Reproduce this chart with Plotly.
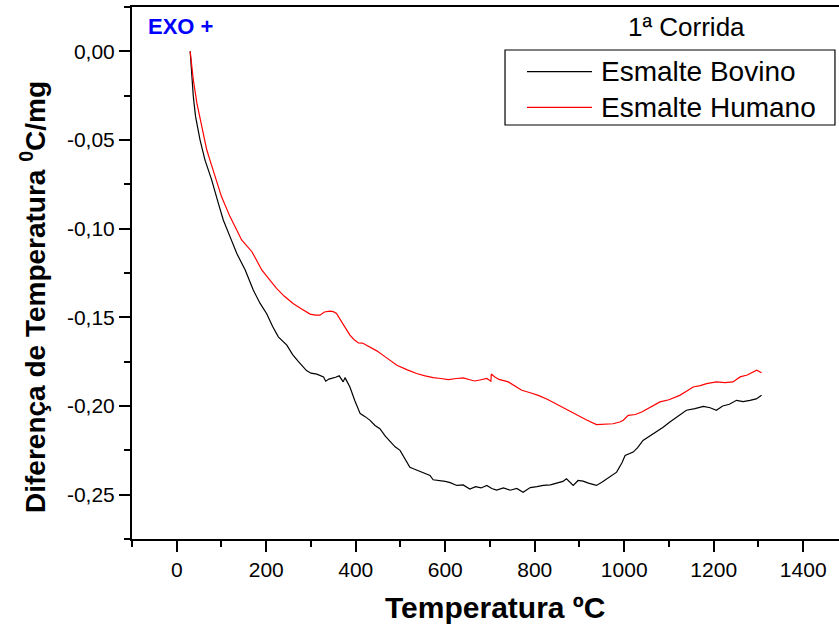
import plotly.graph_objects as go

# Esmalte Bovino (black)
bov_x = [30, 33, 37, 42, 52, 63, 78, 93, 104, 119, 134, 153, 171, 186, 201, 214, 227, 246, 259, 272, 290, 300,
         313, 328, 333, 340, 346, 355, 363, 368, 372, 376, 380, 387, 398, 410, 421, 432, 443, 454, 466, 477,
         488, 499, 508, 517, 521, 529, 543, 558, 566, 573, 588, 600, 611, 626, 640, 655, 668, 680, 693, 704,
         715, 730, 745, 760, 774, 790, 805, 819, 835, 850, 863, 871, 886, 897, 908, 920, 938, 950, 961, 972,
         983, 995, 1002, 1020, 1030, 1042, 1057, 1072, 1087, 1102, 1120, 1139, 1158, 1177, 1192, 1206, 1220,
         1235, 1251, 1266, 1281, 1295, 1307]
bov_y = [0.0, -0.0122, -0.0254, -0.0367, -0.0499, -0.0612, -0.0725, -0.0857, -0.0951, -0.1045, -0.1139,
         -0.1233, -0.1346, -0.142,
         -0.148, -0.155, -0.161, -0.1657, -0.171, -0.175, -0.180, -0.1815, -0.182, -0.1836, -0.186, -0.1848,
         -0.1845, -0.1838, -0.183, -0.185, -0.1864, -0.184, -0.186, -0.1893, -0.197, -0.2043, -0.206, -0.2081,
         -0.211, -0.2128, -0.217, -0.2203, -0.223, -0.225, -0.229, -0.2335, -0.2345, -0.2354, -0.2368, -0.2382,
         -0.2392, -0.2416, -0.242, -0.2425, -0.2432, -0.2448, -0.2445, -0.2468, -0.2455, -0.2462, -0.2448,
         -0.2465, -0.2474, -0.2462, -0.2475, -0.2465, -0.2486, -0.246, -0.2455, -0.2448, -0.2445, -0.2432,
         -0.2425, -0.241, -0.2448, -0.242, -0.2424, -0.2435, -0.2448, -0.243, -0.241, -0.2395, -0.2373,
         -0.232, -0.2279, -0.226, -0.2235, -0.2194, -0.217, -0.2147, -0.212, -0.209, -0.206, -0.2024, -0.2015,
         -0.2002, -0.201, -0.2024, -0.200, -0.199, -0.1968, -0.1975, -0.1968, -0.196, -0.194]

# Esmalte Humano (red)
hum_x = [30, 37, 45, 56, 67, 74, 86, 100, 119, 145, 168, 190, 205, 223, 240, 260, 280,
         298, 310, 320, 330, 342, 350, 357, 372, 387, 396, 406, 415, 424, 435, 447, 470, 492, 514, 536, 555,
         573, 590, 607, 625, 640, 655, 666, 680, 693, 702, 703, 710, 720, 741, 755, 771, 790, 808, 828, 849,
         870, 894, 915, 938, 955, 975, 990, 998, 1009, 1025, 1039, 1060, 1080, 1100, 1124, 1140, 1154, 1170,
         1184, 1206, 1225, 1243, 1259, 1275, 1290, 1296, 1307]
hum_y = [0.0, -0.016, -0.0292, -0.0424, -0.0555, -0.0612, -0.0706, -0.0819, -0.0932, -0.1064, -0.113,
         -0.1233, -0.128, -0.1337, -0.138, -0.1422, -0.1455, -0.1482, -0.1488, -0.1488,
         -0.147, -0.1465, -0.1468, -0.1478, -0.154, -0.160, -0.1625, -0.1644, -0.1645, -0.1657, -0.1675,
         -0.1689, -0.173, -0.177, -0.1795, -0.1817, -0.183, -0.184, -0.1845, -0.1851, -0.1845, -0.1842,
         -0.1852, -0.1859, -0.1852, -0.1845, -0.186, -0.182, -0.1835, -0.185, -0.1864, -0.1885, -0.1911,
         -0.1925, -0.194, -0.1962, -0.199, -0.202, -0.2053, -0.2078, -0.2105, -0.2102, -0.210, -0.209,
         -0.208, -0.2053, -0.2048, -0.2034, -0.2005, -0.1977, -0.1965, -0.194, -0.1915, -0.1893, -0.1885,
         -0.1874, -0.1864, -0.1868, -0.1864, -0.1836, -0.1825, -0.1805, -0.1798, -0.1813]

y_tick_vals = [0.0, -0.05, -0.10, -0.15, -0.20, -0.25]
y_tick_text = ["0,00", "-0,05", "-0,10", "-0,15", "-0,20", "-0,25"]

series_names = ["Esmalte Bovino", "Esmalte Humano"]
series_colors = ["black", "red"]

FONT = "Liberation Sans, Arial, sans-serif"

fig = go.Figure()
fig.add_trace(go.Scatter(x=bov_x, y=bov_y, mode="lines", name=series_names[0],
                         line=dict(color=series_colors[0], width=1.2)))
fig.add_trace(go.Scatter(x=hum_x, y=hum_y, mode="lines", name=series_names[1],
                         line=dict(color=series_colors[1], width=1.2)))

axis_common = dict(showgrid=False, zeroline=False, showline=True, linecolor="black", linewidth=2,
                   ticks="outside", ticklen=11, tickwidth=2, tickcolor="black",
                   tickfont=dict(family=FONT, size=21, color="black"))

fig.update_xaxes(range=[-100, 1480], dtick=200, tick0=0, mirror=True,
                 minor=dict(dtick=100, tick0=0, ticks="outside", ticklen=6, tickwidth=2, tickcolor="black"),
                 **axis_common)
fig.update_yaxes(range=[-0.275, 0.025], tickvals=y_tick_vals, ticktext=y_tick_text, mirror=False,
                 minor=dict(dtick=0.025, tick0=0, ticks="outside", ticklen=6, tickwidth=2, tickcolor="black"),
                 **axis_common)

# manual legend (box, line samples, labels) in paper coordinates
leg_x0, leg_x1, leg_y0, leg_y1 = 0.5276, 0.9943, 0.7782, 0.9192
leg_rows = [0.8784, 0.8115]
leg_line_x = [0.5587, 0.6506]
leg_text_x = 0.661

shapes = [dict(type="rect", xref="paper", yref="paper", x0=leg_x0, x1=leg_x1, y0=leg_y0, y1=leg_y1,
               line=dict(color="black", width=1.2), fillcolor="white", layer="above")]
annotations = []
for name, color, ry in zip(series_names, series_colors, leg_rows):
    shapes.append(dict(type="line", xref="paper", yref="paper", x0=leg_line_x[0], x1=leg_line_x[1],
                       y0=ry, y1=ry, line=dict(color=color, width=1.2), layer="above"))
    annotations.append(dict(text=name, xref="paper", yref="paper", x=leg_text_x, y=ry,
                            xanchor="left", yanchor="middle", showarrow=False,
                            font=dict(family=FONT, size=28, color="black")))

annotations += [
    dict(text="<b>Diferença de Temperatura <sup>0</sup>C/mg</b>", xref="paper", yref="paper",
         x=-0.14, y=0.455, xanchor="center", yanchor="middle", textangle=-90, showarrow=False,
         font=dict(family=FONT, size=28, color="black")),
    dict(text="<b>Temperatura ºC</b>", xref="paper", yref="paper",
         x=0.513, y=-0.128, xanchor="center", yanchor="middle", showarrow=False,
         font=dict(family=FONT, size=30, color="black")),
    dict(text="<b>EXO +</b>", xref="paper", yref="paper",
         x=0.068, y=0.963, xanchor="center", yanchor="middle", showarrow=False,
         font=dict(family=FONT, size=22, color="#0000ff")),
    dict(text="1ª Corrida", xref="paper", yref="paper",
         x=0.784, y=0.963, xanchor="center", yanchor="middle", showarrow=False,
         font=dict(family=FONT, size=26, color="black")),
]

fig.update_layout(
    width=839, height=629,
    margin=dict(l=132, r=0, t=7, b=90),
    plot_bgcolor="white", paper_bgcolor="white",
    font=dict(family=FONT, color="black"),
    showlegend=False,
    shapes=shapes,
    annotations=annotations,
)

fig.write_html("out.html")
